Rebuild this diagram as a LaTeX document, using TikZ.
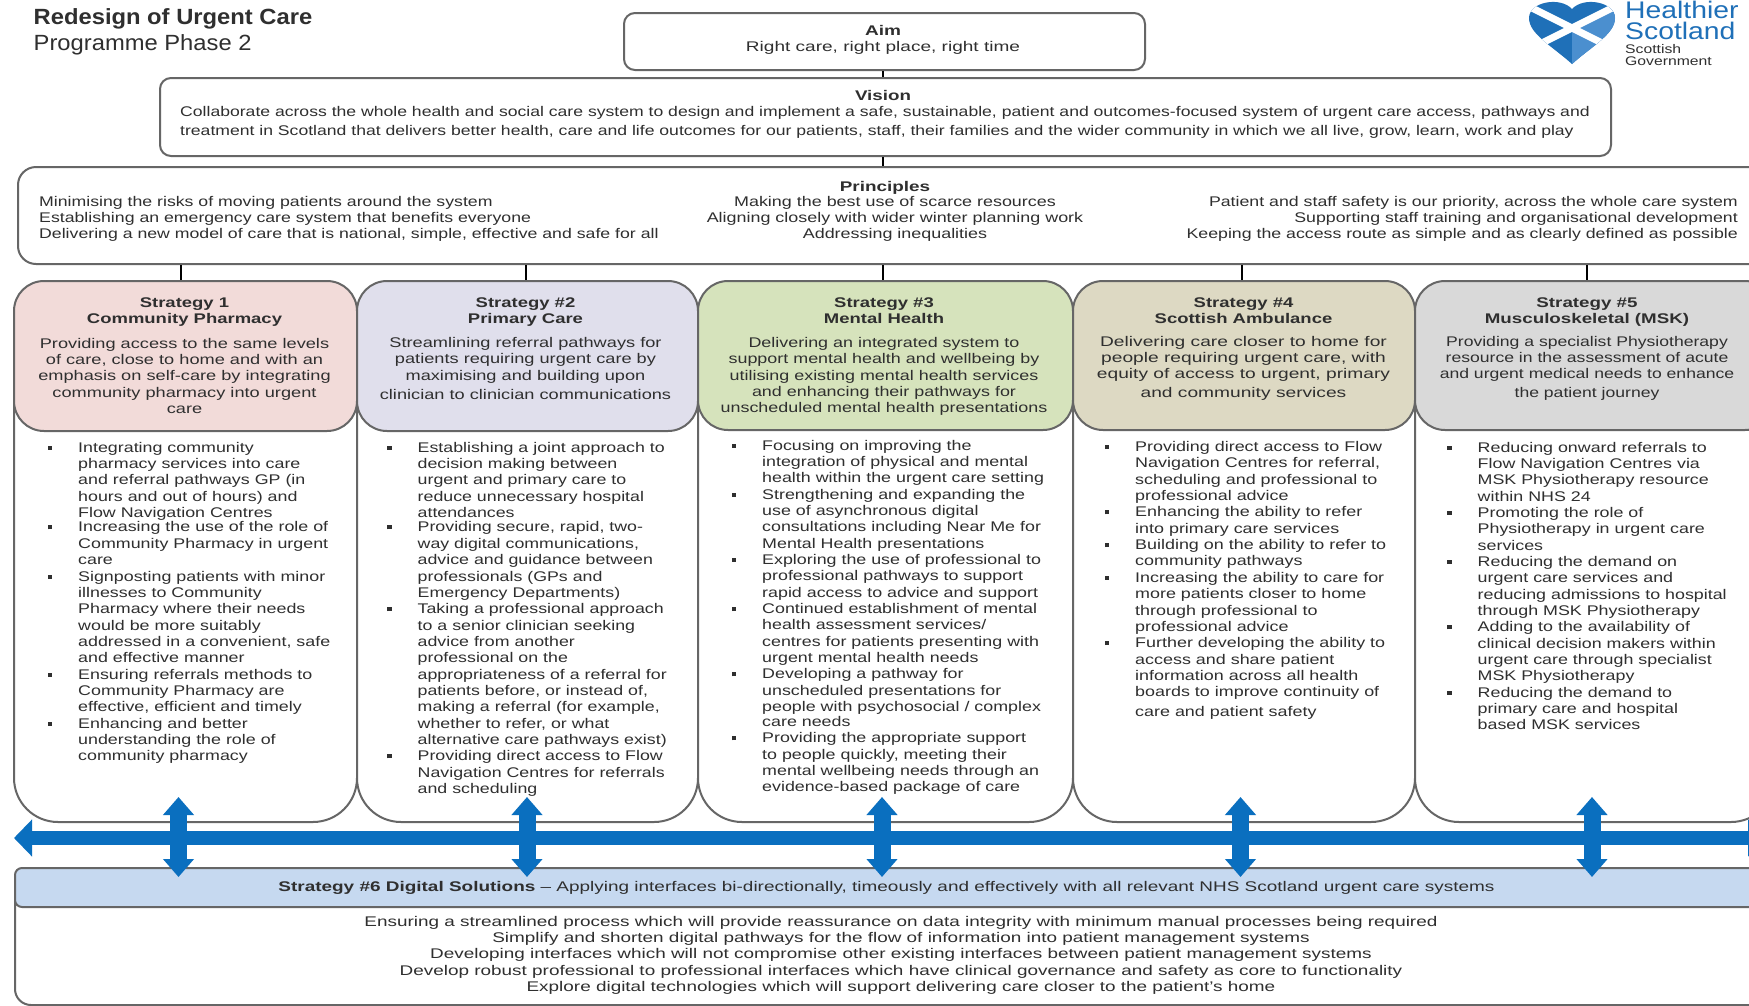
\documentclass[tikz,border=0pt]{standalone}
\usepackage{fontspec}
\usepackage{graphicx}
\usepackage{array}
\setmainfont{Liberation Sans}
\usetikzlibrary{arrows.meta,calc}
\definecolor{ink}{HTML}{2F2F2F}
\definecolor{edge}{HTML}{666666}
\definecolor{flow}{HTML}{0A6FBF}
\definecolor{hpink}{HTML}{F2DBD9}
\definecolor{hlav}{HTML}{E0DFEC}
\definecolor{hgreen}{HTML}{D6E3BC}
\definecolor{htan}{HTML}{DDD9C3}
\definecolor{hgrey}{HTML}{D9D9D9}
\definecolor{hblue}{HTML}{C6D9F0}
\definecolor{logoblue}{HTML}{1F70B8}
\definecolor{logomid}{HTML}{4B8FCF}
\newcommand\tb[3]{\scalebox{#1}[1]{\begin{tabular}[t]{@{}#2@{}}#3\end{tabular}}}
\newcommand\bu{\leavevmode\llap{\rule[2.5pt]{3.4pt}{4pt}\hspace{20.5pt}}}
\tikzset{
  x=1pt,y=-1pt,
  txt/.style={inner sep=0pt,text=ink,font=\fontsize{14}{16.35}\selectfont},
  top box/.style={draw=edge,line width=2pt,fill=white,rounded corners=11pt,anchor=north west,inner sep=0pt},
  body box/.style={draw=edge,line width=2pt,fill=white,rounded corners=44pt,anchor=north west,inner sep=0pt},
  head box/.style={draw=edge,line width=2pt,rounded corners=30pt,anchor=north west,inner sep=0pt},
  link/.style={draw=black,line width=1.3pt},
  flow arrow/.style={draw=flow,line width=#1},
}
\begin{document}
\begin{tikzpicture}
\clip (0,0) rectangle (1749,1005);
\fill[white] (0,0) rectangle (1749,1005);

% title
\node (t1) [txt,anchor=base west,font=\fontsize{22}{24}\selectfont\bfseries] at (33.5,24) {\scalebox{1.08}[1]{Redesign of Urgent Care}};
\node (t2) [txt,anchor=base west,font=\fontsize{22}{24}\selectfont] at (33.5,50) {\scalebox{1.08}[1]{Programme Phase 2}};

% top boxes
\node (aim) [top box,minimum width=521pt,minimum height=57pt] at (623,12) {};
\node (vis) [top box,minimum width=1451pt,minimum height=78pt] at (159,77) {};
\node (pri) [top box,rounded corners=18pt,minimum width=1760pt,minimum height=97pt] at (17,166) {};
\coordinate (c0) at (883,0);
\coordinate (c1) at (181,0);
\coordinate (c2) at (526,0);
\coordinate (c3) at (883,0);
\coordinate (c4) at (1242,0);
\coordinate (c5) at (1587,0);

% strategy bodies
\node (b1) [body box,minimum width=343pt,minimum height=541pt] at (13,280) {};
\node (b2) [body box,minimum width=341pt,minimum height=541pt] at (356,280) {};
\node (b3) [body box,minimum width=375pt,minimum height=541pt] at (697,280) {};
\node (b4) [body box,minimum width=342pt,minimum height=541pt] at (1072,280) {};
\node (b5) [body box,minimum width=360pt,minimum height=541pt] at (1414,280) {};
% strategy headers
\node (h1) [head box,fill=hpink,minimum width=343pt,minimum height=150pt] at (13,280) {};
\node (h2) [head box,fill=hlav,minimum width=341pt,minimum height=150pt] at (356,280) {};
\node (h3) [head box,fill=hgreen,minimum width=375pt,minimum height=149pt] at (697,280) {};
\node (h4) [head box,fill=htan,minimum width=342pt,minimum height=149pt] at (1072,280) {};
\node (h5) [head box,fill=hgrey,minimum width=360pt,minimum height=149pt] at (1414,280) {};

\draw[link] (aim.south -| c0) -- (vis.north -| c0);
\draw[link] (vis.south -| c0) -- (pri.north -| c0);
\draw[link] (pri.south -| c1) -- (h1.north -| c1);
\draw[link] (pri.south -| c2) -- (h2.north -| c2);
\draw[link] (pri.south -| c3) -- (h3.north -| c3);
\draw[link] (pri.south -| c4) -- (h4.north -| c4);
\draw[link] (pri.south -| c5) -- (h5.north -| c5);

% strategy 6
\node (d6) [body box,rounded corners=16pt,minimum width=1760pt,minimum height=137pt] at (14,867) {};
\node (h6) [head box,rounded corners=7pt,fill=hblue,minimum width=1760pt,minimum height=39pt] at (14,867) {};

% texts of top boxes
\node (aimt) [txt,anchor=base] at (883,35) {\tb{1.36}{c}{\textbf{Aim}\\[-0.3pt]Right care, right place, right time}};
\node (vist) [txt,anchor=base] at (883,100) {\scalebox{1.34}[1]{\textbf{Vision}}};
\node (vist2) [txt,anchor=base west] at (180,116) {\tb{1.257}{l}{Collaborate across the whole health and social care system to design and implement a safe, sustainable, patient and outcomes-focused system of urgent care access, pathways and\\[2.7pt]treatment in Scotland that delivers better health, care and life outcomes for our patients, staff, their families and the wider community in which we all live, grow, learn, work and play}};
\node (prit) [txt,anchor=base] at (885,191) {\scalebox{1.35}[1]{\textbf{Principles}}};
\node (pril) [txt,anchor=base west] at (39,206) {\tb{1.264}{l}{Minimising the risks of moving patients around the system\\Establishing an emergency care system that benefits everyone\\Delivering a new model of care that is national, simple, effective and safe for all}};
\node (pric) [txt,anchor=base] at (895,206) {\tb{1.28}{c}{Making the best use of scarce resources\\Aligning closely with wider winter planning work\\Addressing inequalities}};
\node (prir) [txt,anchor=base east] at (1738,206) {\tb{1.267}{r}{Patient and staff safety is our priority, across the whole care system\\Supporting staff training and organisational development\\Keeping the access route as simple and as clearly defined as possible}};

% strategy headers text
\node (h1t) [txt,anchor=base] at (184.5,307.5) {\tb{1.32}{c}{\textbf{Strategy 1}\\\textbf{Community Pharmacy}}};
\node (h1d) [txt,anchor=base] at (184.5,348) {\tb{1.3}{c}{Providing access to the same levels\\of care, close to home and with an\\emphasis on self-care by integrating\\community pharmacy into urgent\\care}};
\node (h2t) [txt,anchor=base] at (525.5,307.5) {\tb{1.32}{c}{\textbf{Strategy \#2}\\\textbf{Primary Care}}};
\node (h2d) [txt,anchor=base] at (525.5,347.5) {\tb{1.3}{c}{Streamlining referral pathways for\\patients requiring urgent care by\\maximising and building upon\\[2.6pt]clinician to clinician communications}};
\node (h3t) [txt,anchor=base] at (884,307.5) {\tb{1.32}{c}{\textbf{Strategy \#3}\\\textbf{Mental Health}}};
\node (h3d) [txt,anchor=base] at (884,347.5) {\tb{1.28}{c}{Delivering an integrated system to\\support mental health and wellbeing by\\utilising existing mental health services\\and enhancing their pathways for\\unscheduled mental health presentations}};
\node (h4t) [txt,anchor=base] at (1243.5,307.5) {\tb{1.32}{c}{\textbf{Strategy \#4}\\\textbf{Scottish Ambulance}}};
\node (h4d) [txt,anchor=base] at (1243.5,346) {\tb{1.37}{c}{Delivering care closer to home for\\people requiring urgent care, with\\equity of access to urgent, primary\\[2.6pt]and community services}};
\node (h5t) [txt,anchor=base] at (1587,307.5) {\tb{1.34}{c}{\textbf{Strategy \#5}\\\textbf{Musculoskeletal (MSK)}}};
\node (h5d) [txt,anchor=base] at (1587,346) {\tb{1.257}{c}{Providing a specialist Physiotherapy\\resource in the assessment of acute\\and urgent medical needs to enhance\\[2.6pt]the patient journey}};

% bullet lists
\node (l1) [txt,anchor=base west] at (78,452) {\tb{1.275}{l}{\bu Integrating community\\pharmacy services into care\\and referral pathways GP (in\\hours and out of hours) and\\Flow Navigation Centres\\[-1.8pt]\bu Increasing the use of the role of\\Community Pharmacy in urgent\\care\\\bu Signposting patients with minor\\illnesses to Community\\Pharmacy where their needs\\would be more suitably\\addressed in a convenient, safe\\and effective manner\\\bu Ensuring referrals methods to\\Community Pharmacy are\\effective, efficient and timely\\\bu Enhancing and better\\understanding the role of\\community pharmacy}};
\node (l2) [txt,anchor=base west] at (417.5,452) {\tb{1.27}{l}{\bu Establishing a joint approach to\\decision making between\\urgent and primary care to\\reduce unnecessary hospital\\attendances\\[-1.8pt]\bu Providing secure, rapid, two-\\way digital communications,\\advice and guidance between\\professionals (GPs and\\Emergency Departments)\\\bu Taking a professional approach\\to a senior clinician seeking\\advice from another\\professional on the\\appropriateness of a referral for\\patients before, or instead of,\\making a referral (for example,\\whether to refer, or what\\alternative care pathways exist)\\\bu Providing direct access to Flow\\Navigation Centres for referrals\\and scheduling}};
\node (l3) [txt,anchor=base west] at (762,450) {\tb{1.275}{l}{\bu Focusing on improving the\\integration of physical and mental\\health within the urgent care setting\\\bu Strengthening and expanding the\\use of asynchronous digital\\consultations including Near Me for\\Mental Health presentations\\\bu Exploring the use of professional to\\professional pathways to support\\rapid access to advice and support\\\bu Continued establishment of mental\\health assessment services/\\centres for patients presenting with\\urgent mental health needs\\\bu Developing a pathway for\\unscheduled presentations for\\people with psychosocial / complex\\[-1.5pt]care needs\\\bu Providing the appropriate support\\to people quickly, meeting their\\mental wellbeing needs through an\\evidence-based package of care}};
\node (l4) [txt,anchor=base west] at (1135,451.5) {\tb{1.28}{l}{\bu Providing direct access to Flow\\Navigation Centres for referral,\\scheduling and professional to\\professional advice\\\bu Enhancing the ability to refer\\into primary care services\\\bu Building on the ability to refer to\\community pathways\\\bu Increasing the ability to care for\\more patients closer to home\\through professional to\\professional advice\\\bu Further developing the ability to\\access and share patient\\information across all health\\boards to improve continuity of\\[2.9pt]care and patient safety}};
\node (l5) [txt,anchor=base west] at (1477.5,452) {\tb{1.275}{l}{\bu Reducing onward referrals to\\Flow Navigation Centres via\\MSK Physiotherapy resource\\within NHS 24\\\bu Promoting the role of\\Physiotherapy in urgent care\\services\\\bu Reducing the demand on\\urgent care services and\\reducing admissions to hospital\\through MSK Physiotherapy\\\bu Adding to the availability of\\clinical decision makers within\\urgent care through specialist\\MSK Physiotherapy\\\bu Reducing the demand to\\primary care and hospital\\based MSK services}};

% strategy 6 text
\node (h6t) [txt,anchor=base] at (886.5,891) {\tb{1.354}{c}{\textbf{Strategy \#6 Digital Solutions} – Applying interfaces bi-directionally, timeously and effectively with all relevant NHS Scotland urgent care systems}};
\node (d6t) [txt,anchor=base] at (901,926) {\tb{1.352}{c}{Ensuring a streamlined process which will provide reassurance on data integrity with minimum manual processes being required\\Simplify and shorten digital pathways for the flow of information into patient management systems\\Developing interfaces which will not compromise other existing interfaces between patient management systems\\Develop robust professional to professional interfaces which have clinical governance and safety as core to functionality\\Explore digital technologies which will support delivering care closer to the patient's home}};

% blue arrows
\coordinate (fl) at (14,838);
\coordinate (fr) at (1766,838);
\draw[flow arrow=14pt,{Triangle[width=36pt,length=18pt]}-{Triangle[width=36pt,length=18pt]}] (fl) -- (fr);
\foreach \n/\px in {1/178.5,2/527,3/882,4/1240.5,5/1592}{
  \coordinate (ua\n) at (\px,797);
  \coordinate (da\n) at (\px,877);
  \draw[flow arrow=17pt,{Triangle[width=30pt,length=18pt]}-{Triangle[width=30pt,length=18pt]}] (ua\n) -- (da\n);
}

% logo
\begin{scope}
\clip (1572,64) .. controls (1552,46) and (1529,34) .. (1529,18) .. controls (1529,2) and (1560,-4) .. (1572,9) .. controls (1584,-4) and (1615,2) .. (1615,18) .. controls (1615,34) and (1592,46) .. (1572,64) -- cycle;
\fill[logoblue] (1520,-5) rectangle (1625,70);
\fill[logomid] (1572,28) -- (1625,0) -- (1625,56) -- cycle;
\fill[logomid] (1572,28) -- (1625,56) -- (1572,70) -- cycle;
\draw[white,line width=7pt] (1527,5.5) -- (1617,50.5);
\draw[white,line width=7pt] (1617,5.5) -- (1527,50.5);
\end{scope}
\node (lg1) [inner sep=0pt,anchor=base west,text=logoblue,font=\fontsize{24}{22}\selectfont] at (1625,18) {\scalebox{1.18}[1]{Healthier}};
\node (lg2) [inner sep=0pt,anchor=base west,text=logoblue,font=\fontsize{24}{22}\selectfont] at (1625,39) {\scalebox{1.18}[1]{Scotland}};
\node (lg3) [inner sep=0pt,anchor=base west,text=ink,font=\fontsize{12.5}{12}\selectfont] at (1625,53) {\scalebox{1.26}[1]{Scottish}};
\node (lg4) [inner sep=0pt,anchor=base west,text=ink,font=\fontsize{12.5}{12}\selectfont] at (1625,65) {\scalebox{1.26}[1]{Government}};
\end{tikzpicture}
\end{document}
